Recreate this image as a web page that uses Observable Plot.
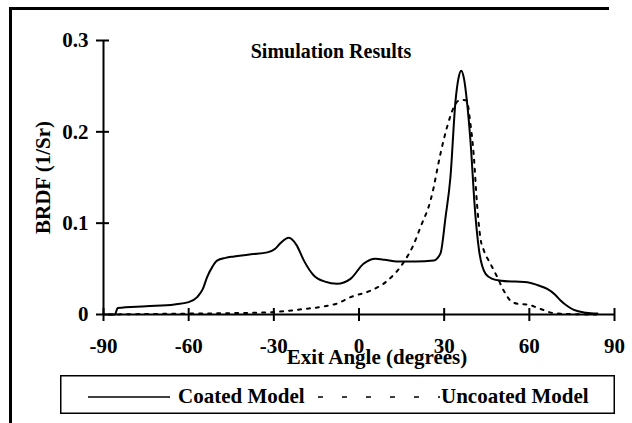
<!DOCTYPE html>
<html>
<head>
<meta charset="utf-8">
<script src="https://cdn.jsdelivr.net/npm/d3@7"></script>
<script src="https://cdn.jsdelivr.net/npm/@observablehq/plot@0.6"></script>
<style>
  html, body { margin: 0; padding: 0; background: #fff; }
  #wrap { position: relative; width: 632px; height: 423px; overflow: hidden; background: #fff; }
  #frame { position: absolute; left: 9px; top: 7px; width: 600px; height: 430px;
           border-top: 3px solid #000; border-left: 3px solid #000; box-sizing: border-box; }
  #chart { position: absolute; left: 0; top: 0; }
  #legend { position: absolute; left: 60px; top: 375px; }
</style>
</head>
<body>
<div id="wrap">
  <div id="frame"></div>
  <div id="chart"></div>
  <div id="legend"></div>
</div>
<script>
const title = "Simulation Results";
const xLabel = "Exit Angle (degrees)";
const yLabel = "BRDF (1/Sr)";
const seriesNames = ["Coated Model", "Uncoated Model"];
const xTicks = [-90, -60, -30, 0, 30, 60, 90];
const yTicks = [0, 0.1, 0.2, 0.3];

// Coated Model (solid)
const coatedAngle = [-88, -86, -85, -75, -65, -60, -57, -55, -53.5, -51.5, -50, -47, -44, -38, -32.3, -29.5, -27.7, -24.7, -22, -19.4, -16, -12, -7.7, -3, 1.6, 5.8, 9, 13.4, 20, 26.3, 28.7, 30.5, 32.2, 34, 35, 36, 37, 38, 39.5, 40.6, 42.3, 44.6, 47, 50, 55, 59.3, 63, 66.3, 69, 71, 73.5, 75.7, 80, 84];
const coatedBRDF  = [0, 0, 0.007, 0.009, 0.011, 0.0135, 0.019, 0.028, 0.041, 0.053, 0.059, 0.062, 0.0635, 0.066, 0.068, 0.072, 0.078, 0.084, 0.076, 0.059, 0.043, 0.036, 0.0336, 0.039, 0.0555, 0.061, 0.060, 0.058, 0.058, 0.059, 0.067, 0.107, 0.150, 0.234, 0.258, 0.267, 0.258, 0.234, 0.18, 0.125, 0.070, 0.0445, 0.039, 0.037, 0.036, 0.0354, 0.032, 0.028, 0.022, 0.0153, 0.009, 0.005, 0.002, 0.001];

// Uncoated Model (dashed)
const uncoatedAngle = [-88, -75, -60, -45, -31, -19.4, -12, -7.7, -3, 4, 10, 15.7, 19, 21.7, 25.2, 26.3, 27.5, 28.7, 31, 33.4, 35, 36.5, 38, 39, 40.4, 41.6, 42.8, 44, 46.3, 48.7, 51, 54, 56.5, 59.2, 64, 68.6, 75, 83.6];
const uncoatedBRDF  = [0, 0.0005, 0.001, 0.0015, 0.0025, 0.006, 0.009, 0.012, 0.019, 0.026, 0.037, 0.057, 0.075, 0.096, 0.125, 0.139, 0.158, 0.176, 0.205, 0.227, 0.234, 0.235, 0.234, 0.215, 0.175, 0.12, 0.083, 0.070, 0.0555, 0.041, 0.026, 0.0135, 0.0115, 0.011, 0.006, 0.0015, 0.0005, 0];

const coated = coatedAngle.map((a, i) => ({angle: a, brdf: coatedBRDF[i]}));
const uncoated = uncoatedAngle.map((a, i) => ({angle: a, brdf: uncoatedBRDF[i]}));

const font = "'Liberation Serif', 'Times New Roman', serif";
const fmtY = d => d === 0 ? "0" : d3.format(".1f")(d);

const chart = Plot.plot({
  width: 632,
  height: 372,
  marginLeft: 103,
  marginRight: 18,
  marginTop: 40,
  marginBottom: 58,
  x: {domain: [-90, 90], axis: null},
  y: {domain: [0, 0.3], axis: null},
  style: {fontFamily: font, background: "transparent", overflow: "visible"},
  marks: [
    Plot.line(coated, {x: "angle", y: "brdf", curve: "monotone-x", stroke: "#000", strokeWidth: 2}),
    Plot.line(uncoated, {x: "angle", y: "brdf", curve: "monotone-x", stroke: "#000", strokeWidth: 2, strokeDasharray: "3,6"}),
    Plot.ruleY([0], {x1: -90, x2: 90, stroke: "#000", strokeWidth: 2.2}),
    Plot.ruleX([-90], {y1: 0, y2: 0.3, stroke: "#000", strokeWidth: 2}),
    Plot.ruleX(xTicks, {x: d => d, y1: 0, y2: 0, insetTop: -6, insetBottom: -7, stroke: "#000", strokeWidth: 2}),
    Plot.ruleY(yTicks, {y: d => d, x1: -90, x2: -90, insetLeft: -7, insetRight: -6, stroke: "#000", strokeWidth: 2}),
    Plot.text(xTicks, {x: d => d, y: 0, text: d => String(d), dy: 32, fontSize: 21, fontWeight: "bold", fontFamily: font, fill: "#000"}),
    Plot.text(yTicks, {x: -90, y: d => d, text: fmtY, dx: -15, textAnchor: "end", fontSize: 21, fontWeight: "bold", fontFamily: font, fill: "#000"}),
    Plot.text([title], {frameAnchor: "top", text: d => d, dx: -28, dy: 3, lineAnchor: "top", textAnchor: "middle", fontSize: 20, fontWeight: "bold", fontFamily: font, fill: "#000"}),
    Plot.text([xLabel], {frameAnchor: "bottom", text: d => d, dx: 18, dy: 49, textAnchor: "middle", fontSize: 21, fontWeight: "bold", fontFamily: font, fill: "#000"}),
    Plot.text([yLabel], {frameAnchor: "left", text: d => d, rotate: -90, textAnchor: "middle", dx: -60, dy: 0, fontSize: 21, fontWeight: "bold", fontFamily: font, fill: "#000"})
  ]
});
document.getElementById("chart").appendChild(chart);

// Legend
const lw = 555, lh = 39;
const leg = d3.select("#legend").append("svg").attr("width", lw).attr("height", lh)
  .style("font-family", font).style("display", "block");
leg.append("rect").attr("x", 0.75).attr("y", 0.75).attr("width", lw - 1.5).attr("height", lh - 1.5)
  .attr("fill", "#fff").attr("stroke", "#000").attr("stroke-width", 1.5);
leg.append("line").attr("x1", 28).attr("x2", 110).attr("y1", 22).attr("y2", 22)
  .attr("stroke", "#000").attr("stroke-width", 1.5);
leg.append("text").attr("x", 118).attr("y", 28).attr("font-size", 21).attr("font-weight", "bold")
  .text(seriesNames[0]);
leg.append("line").attr("x1", 258).attr("x2", 380).attr("y1", 22).attr("y2", 22)
  .attr("stroke", "#000").attr("stroke-width", 1.5).attr("stroke-dasharray", "5,19");
leg.append("text").attr("x", 381).attr("y", 28).attr("font-size", 21).attr("font-weight", "bold")
  .text(seriesNames[1]);
</script>
</body>
</html>
